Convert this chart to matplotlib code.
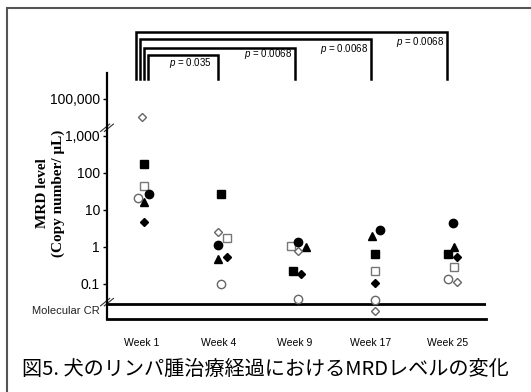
import numpy as np
import matplotlib
matplotlib.use("Agg")
import matplotlib.pyplot as plt
from matplotlib.patches import Rectangle

plt.rcParams["mathtext.fontset"] = "custom"
plt.rcParams["mathtext.it"] = "Liberation Sans:italic"
plt.rcParams["mathtext.rm"] = "Liberation Sans"

# --- data (copy number / uL); 0 = molecular CR ---
weeks = ["Week 1", "Week 4", "Week 9", "Week 17", "Week 25"]
sq_filled = [175, 27, 0.22, 0.65, 0.63]
sq_open = [45, 1.75, 1.05, 0.22, 0.29]
circ_filled = [27, 1.1, 1.35, 2.9, 4.4]
circ_open = [21, 0.1, 0.04, 0.037, 0.14]
tri_filled = [16, 0.47, 1.0, 2.0, 1.0]
dia_filled = [4.8, 0.54, 0.19, 0.107, 0.53]
dia_open = [10000, 2.5, 0.8, 0, 0.11]

tick_vals = [0.1, 1, 10, 100, 1000, 100000]
tick_labels = ["0.1", "1", "10", "100", "1,000", "100,000"]

# comparisons vs week 1
comparisons = [(1, "0.035"), (2, "0.0068"), (3, "0.0068"), (4, "0.0068")]


def fwd(v):
    v = np.asarray(v, dtype=float)
    lv = np.log10(np.clip(v, 1e-9, None))
    out = np.where(v > 1000, 3 + (lv - 3) / 2, lv)
    return np.where(v <= 0, -1.74, out)


def inv(y):
    y = np.asarray(y, dtype=float)
    return np.where(y > 3, 10 ** (3 + 2 * (y - 3)), 10 ** y)


fig = plt.figure(figsize=(5.31, 3.92), dpi=100)
ax = fig.add_axes([107 / 531, 1 - 319 / 392, 379 / 531, 246 / 392])
ax.set_yscale("function", functions=(fwd, inv))
ax.set_xlim(-0.459, 4.51)
ax.set_ylim(float(inv(-1.946)), float(inv(4.70)))

# series styles and small horizontal dodges (category units)
series = [
    (sq_filled, dict(marker="s", mfc="black", mec="black", ms=5.2), [0.03, 0.04, -0.02, 0.05, 0.01]),
    (sq_open, dict(marker="s", mfc="white", mec="#777777", ms=5.2), [0.03, 0.12, -0.05, 0.05, 0.09]),
    (circ_filled, dict(marker="o", mfc="black", mec="black", ms=6), [0.09, -0.01, 0.05, 0.12, 0.08]),
    (circ_open, dict(marker="o", mfc="white", mec="#666666", ms=6), [-0.05, 0.04, 0.05, 0.05, 0.01]),
    (tri_filled, dict(marker="^", mfc="black", mec="black", ms=5.5), [0.02, 0.0, 0.15, 0.02, 0.09]),
    (dia_filled, dict(marker="D", mfc="black", mec="black", ms=4), [0.03, 0.11, 0.09, 0.06, 0.13]),
    (dia_open, dict(marker="D", mfc="white", mec="#666666", ms=4.2), [0.0, 0.0, 0.05, 0.05, 0.13]),
]
x = np.arange(len(weeks))
for vals, style, dodge in series:
    ax.plot(x + np.array(dodge), vals, linestyle="none", mew=1.0, zorder=3, **style)

# axes lines
for s in ["top", "right"]:
    ax.spines[s].set_visible(False)
ax.spines["bottom"].set_linewidth(2)
ax.spines["left"].set_linewidth(1.6)
ax.axhline(float(inv(-1.54)), color="black", lw=2)

ax.set_yticks(tick_vals)
ax.set_yticklabels(tick_labels, fontsize=10, family="Liberation Sans")
ax.yaxis.set_minor_locator(matplotlib.ticker.NullLocator())
ax.tick_params(axis="y", direction="out", length=3, width=1, pad=2)
ax.set_xticks(x)
ax.set_xticklabels(weeks, fontsize=7.5, family="Liberation Sans")
ax.tick_params(axis="x", length=0, pad=14)

ax.text(-0.02, float(inv(-1.74)), "Molecular CR", transform=ax.get_yaxis_transform(),
        ha="right", va="center", fontsize=8, family="Liberation Sans", color="#222222")

ax.set_ylabel("MRD level\n(Copy number/ μL)", family="Liberation Serif",
              fontweight="bold", fontsize=11, linespacing=1.25)
ax.yaxis.set_label_coords(-0.11, 0.512)

# axis break marks
trans = ax.get_yaxis_transform()
for yb in [3.22, -1.49]:
    for dx in [-0.005, 0.005]:
        ax.plot([-0.012 + dx, 0.012 + dx], [float(inv(yb - 0.1)), float(inv(yb + 0.1))],
                transform=trans, color="#333333", lw=0.8, clip_on=False)

# significance brackets
top_y = [5.19, 5.38, 5.62, 5.81]
left_off = [0.08, 0.03, -0.03, -0.08]
text_y = [4.97, 5.20, 5.35, 5.54]
text_dx = [-0.08, -0.03, -0.03, -0.04]
leg_y = 4.54
for (j, p), ty, lo, tyy, tdx in zip(comparisons, top_y, left_off, text_y, text_dx):
    xr = x[j] + 0.0
    yt, yl = float(inv(ty)), float(inv(leg_y))
    ax.plot([x[0] + lo, x[0] + lo, xr, xr], [yl, yt, yt, yl], color="black",
            lw=1.8, clip_on=False, solid_joinstyle="miter")
    ax.text(xr + tdx, float(inv(tyy)), f"$p$ = {p}", ha="right", va="center",
            fontsize=7, family="Liberation Sans")

# outer frame and caption
fig.patches.append(Rectangle((7 / 531, -0.1), 1.2, 1 - 8 / 392 + 0.1, transform=fig.transFigure,
                             fill=False, edgecolor="#555555", lw=1.5))
fig.text(0.5, 1 - 369 / 392, "図5. 犬のリンパ腫治療経過におけるMRDレベルの変化",
         ha="center", va="center", fontsize=14.5, family=["Noto Sans CJK JP", "DejaVu Sans"])

fig.savefig("out.png", dpi=100)
